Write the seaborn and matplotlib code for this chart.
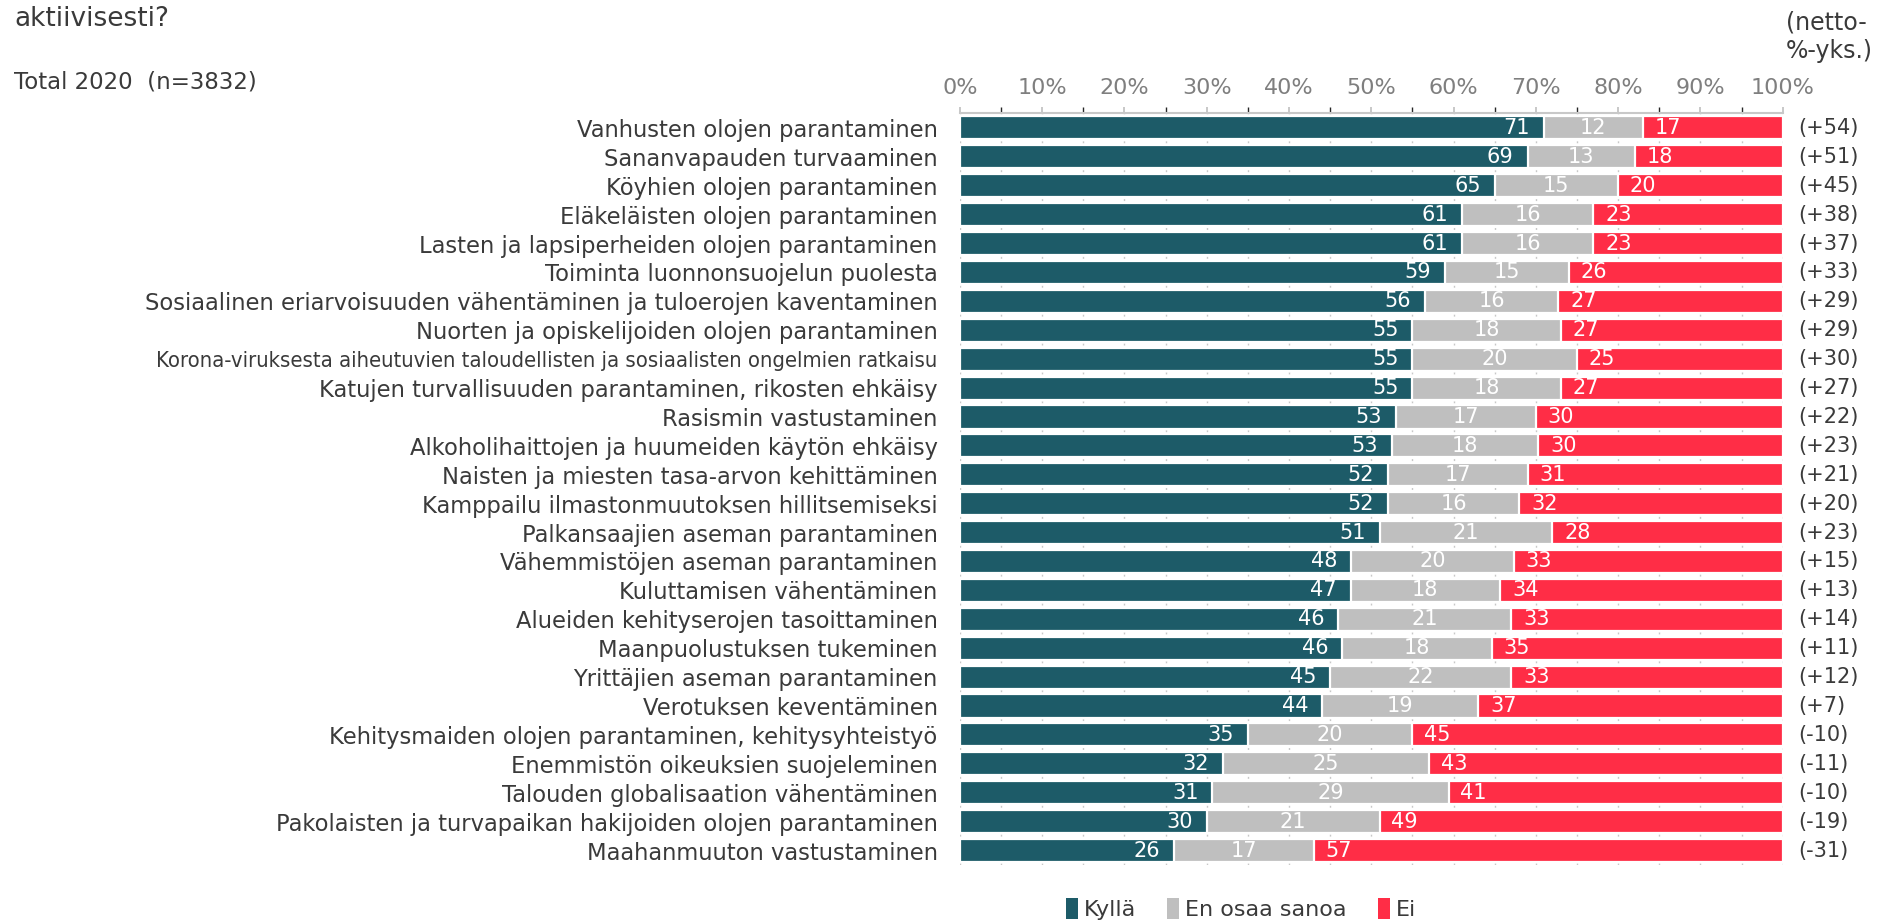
import numpy as np
import pandas as pd
import matplotlib
matplotlib.use("Agg")
import matplotlib.pyplot as plt
import seaborn as sns
from matplotlib.patches import Patch

categories = [
    "Vanhusten olojen parantaminen",
    "Sananvapauden turvaaminen",
    "Köyhien olojen parantaminen",
    "Eläkeläisten olojen parantaminen",
    "Lasten ja lapsiperheiden olojen parantaminen",
    "Toiminta luonnonsuojelun puolesta",
    "Sosiaalinen eriarvoisuuden vähentäminen ja tuloerojen kaventaminen",
    "Nuorten ja opiskelijoiden olojen parantaminen",
    "Korona-viruksesta aiheutuvien taloudellisten ja sosiaalisten ongelmien ratkaisu",
    "Katujen turvallisuuden parantaminen, rikosten ehkäisy",
    "Rasismin vastustaminen",
    "Alkoholihaittojen ja huumeiden käytön ehkäisy",
    "Naisten ja miesten tasa-arvon kehittäminen",
    "Kamppailu ilmastonmuutoksen hillitsemiseksi",
    "Palkansaajien aseman parantaminen",
    "Vähemmistöjen aseman parantaminen",
    "Kuluttamisen vähentäminen",
    "Alueiden kehityserojen tasoittaminen",
    "Maanpuolustuksen tukeminen",
    "Yrittäjien aseman parantaminen",
    "Verotuksen keventäminen",
    "Kehitysmaiden olojen parantaminen, kehitysyhteistyö",
    "Enemmistön oikeuksien suojeleminen",
    "Talouden globalisaation vähentäminen",
    "Pakolaisten ja turvapaikan hakijoiden olojen parantaminen",
    "Maahanmuuton vastustaminen",
]
kylla = [71, 69, 65, 61, 61, 59, 56, 55, 55, 55, 53, 53, 52, 52, 51, 48, 47,
         46, 46, 45, 44, 35, 32, 31, 30, 26]
eos = [12, 13, 15, 16, 16, 15, 16, 18, 20, 18, 17, 18, 17, 16, 21, 20, 18,
       21, 18, 22, 19, 20, 25, 29, 21, 17]
ei = [17, 18, 20, 23, 23, 26, 27, 27, 25, 27, 30, 30, 31, 32, 28, 33, 34,
      33, 35, 33, 37, 45, 43, 41, 49, 57]
netto = ["+54", "+51", "+45", "+38", "+37", "+33", "+29", "+29", "+30", "+27",
         "+22", "+23", "+21", "+20", "+23", "+15", "+13", "+14", "+11", "+12",
         "+7", "-10", "-11", "-10", "-19", "-31"]
series = ["Kyllä", "En osaa sanoa", "Ei"]
colors = ["#1d5b68", "#bfbfbf", "#ff2d46"]
xticks = list(range(0, 101, 10))

sns.set_theme(style="white")
plt.rcParams["font.family"] = ["DejaVu Sans"]
text_col = "#3a3a3a"

df = pd.DataFrame({"kat": categories, "Kyllä": kylla,
                   "En osaa sanoa": eos, "Ei": ei})
# 100 % stacked: scale rows to full width
tot = df[series].sum(axis=1)
share = df[series].div(tot, axis=0) * 100
df["c1"] = share["Kyllä"]
df["c2"] = share["Kyllä"] + share["En osaa sanoa"]
df["c3"] = df["c2"] + share["Ei"]

fig = plt.figure(figsize=(18.83, 9.21), dpi=100)
ax = fig.add_axes([0.5098, 0.0608, 0.9467 - 0.5098, 0.8768 - 0.0608])

for col, c in zip(["c3", "c2", "c1"], colors[::-1]):
    sns.barplot(data=df, x=col, y="kat", orient="h", color=c, width=0.8,
                edgecolor="white", linewidth=1.6, saturation=1, ax=ax,
                zorder=3)

ax.set_xlim(0, 100)
ax.set_ylim(len(categories) - 0.5, -0.5)
ax.set_xlabel("")
ax.set_ylabel("")
ax.set_xticks(xticks)
ax.set_xticklabels([f"{t}%" for t in xticks])
ax.xaxis.tick_top()
ax.tick_params(axis="x", which="major", top=True, bottom=False, length=4,
               width=1.2, color="#bfbfbf", labelsize=16, labelcolor="#7f7f7f",
               pad=7)
ax.tick_params(axis="y", left=False, length=0, labelsize=16.3,
               labelcolor=text_col, pad=16)
# the longest label is set tighter in the original
for lab in ax.get_yticklabels():
    if lab.get_text().startswith("Korona"):
        lab.set_fontstretch("condensed")
        lab.set_fontsize(15.8)
for s in ["left", "right", "bottom"]:
    ax.spines[s].set_visible(False)
ax.spines["top"].set_color("#c8c8c8")
ax.spines["top"].set_linewidth(1.5)

# dotted marks between rows
ax.set_xticks(range(0, 101, 5), minor=True)
ax.xaxis.grid(True, which="both", color="#c8c8c8", linewidth=1.0,
              linestyle=(0, (1.4, 19.4)), zorder=0)

# segment labels
for i in range(len(categories)):
    ax.annotate(str(kylla[i]), (df["c1"][i], i), xytext=(-10, 0),
                textcoords="offset points", ha="right", va="center",
                color="white", fontsize=15, zorder=5)
    ax.annotate(str(eos[i]), ((df["c1"][i] + df["c2"][i]) / 2, i),
                ha="center", va="center", color="white", fontsize=15,
                zorder=5)
    ax.annotate(str(ei[i]), (df["c2"][i], i), xytext=(8.5, 0),
                textcoords="offset points", ha="left", va="center",
                color="white", fontsize=15, zorder=5)
    ax.annotate(f"({netto[i]})", (1, i), xycoords=ax.get_yaxis_transform(),
                xytext=(11, 0), textcoords="offset points", ha="left",
                va="center", color=text_col, fontsize=15)

fig.text(0.0074, 0.994, "aktiivisesti?", ha="left", va="top", fontsize=19,
         color=text_col)
fig.text(0.0074, 0.911, "Total 2020  (n=3832)", ha="left", va="center",
         fontsize=16.5, color=text_col)
fig.text(0.9485, 0.96, "(netto-\n%-yks.)", ha="left", va="center",
         fontsize=17, color=text_col, linespacing=1.2)

handles = [Patch(facecolor=c, edgecolor="none") for c in colors]
fig.legend(handles, series, loc="center", bbox_to_anchor=(0.659, 0.013),
           ncol=3, frameon=False, fontsize=16, handlelength=0.55,
           handleheight=1.1, handletextpad=0.25, columnspacing=1.4,
           labelcolor=text_col)

fig.savefig("out.png", dpi=100)
